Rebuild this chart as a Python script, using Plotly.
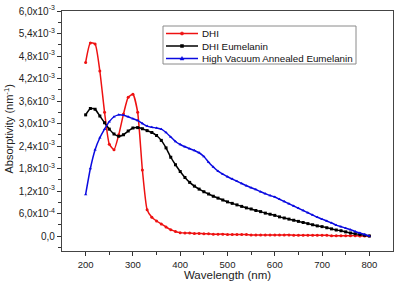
import plotly.graph_objects as go

wavelength = list(range(200, 810, 10))

dhi = [4.63, 5.15, 5.12, 4.40, 3.30, 2.45, 2.30, 2.70, 3.25, 3.70,
       3.78, 3.30, 1.76, 0.70, 0.50, 0.40, 0.32, 0.24, 0.17, 0.12,
       0.09, 0.08, 0.08, 0.07, 0.07, 0.06, 0.06, 0.05, 0.05, 0.05,
       0.04, 0.04, 0.04, 0.04, 0.04, 0.03, 0.03, 0.03, 0.03, 0.03,
       0.03, 0.03, 0.03, 0.03, 0.02, 0.02, 0.02, 0.02, 0.02, 0.02,
       0.02, 0.02, 0.01, 0.01, 0.01, 0.01, 0.01, 0.01, 0.00, 0.00,
       0.00]

dhi_eumelanin = [3.23, 3.40, 3.38, 3.20, 3.02, 2.85, 2.72, 2.66, 2.70, 2.80,
                 2.88, 2.89, 2.86, 2.81, 2.76, 2.68, 2.55, 2.35, 2.10, 1.90,
                 1.72, 1.56, 1.43, 1.33, 1.25, 1.18, 1.12, 1.06, 1.01, 0.96,
                 0.91, 0.87, 0.83, 0.79, 0.75, 0.72, 0.68, 0.65, 0.61, 0.58,
                 0.55, 0.51, 0.48, 0.45, 0.42, 0.39, 0.36, 0.33, 0.30, 0.27,
                 0.25, 0.22, 0.19, 0.16, 0.14, 0.11, 0.08, 0.06, 0.04, 0.02,
                 0.00]

annealed = [1.11, 1.80, 2.30, 2.62, 2.85, 3.05, 3.18, 3.23, 3.22, 3.18,
            3.13, 3.08, 3.00, 2.93, 2.90, 2.88, 2.85, 2.76, 2.64, 2.52,
            2.44, 2.38, 2.33, 2.28, 2.22, 2.12, 1.97, 1.84, 1.73, 1.65,
            1.58, 1.52, 1.46, 1.40, 1.34, 1.29, 1.24, 1.18, 1.13, 1.08,
            1.04, 0.98, 0.92, 0.86, 0.80, 0.74, 0.68, 0.62, 0.56, 0.50,
            0.45, 0.40, 0.35, 0.29, 0.25, 0.21, 0.17, 0.12, 0.08, 0.04,
            0.00]

series_names = ["DHI", "DHI Eumelanin", "High Vacuum Annealed Eumelanin"]

y_tickvals = [0, 0.6e-3, 1.2e-3, 1.8e-3, 2.4e-3, 3.0e-3, 3.6e-3, 4.2e-3, 4.8e-3, 5.4e-3, 6.0e-3]
y_ticktext = ["0,0", "6,0x10<sup>-4</sup>", "1,2x10<sup>-3</sup>", "1,8x10<sup>-3</sup>",
              "2,4x10<sup>-3</sup>", "3,0x10<sup>-3</sup>", "3,6x10<sup>-3</sup>",
              "4,2x10<sup>-3</sup>", "4,8x10<sup>-3</sup>", "5,4x10<sup>-3</sup>",
              "6,0x10<sup>-3</sup>"]
x_tickvals = [200, 300, 400, 500, 600, 700, 800]

scale = 1e-3
colors = ["#ee1111", "#000000", "#0a0ae0"]
symbols = ["circle", "square", "triangle-up"]

fig = go.Figure()
for name, vals, col, sym in zip(series_names, [dhi, dhi_eumelanin, annealed], colors, symbols):
    fig.add_trace(go.Scatter(
        x=wavelength, y=[v * scale for v in vals], name=name,
        mode="lines+markers", showlegend=False,
        line=dict(color=col, width=1.5, shape="spline", smoothing=0.5),
        marker=dict(color=col, size=3, symbol=sym),
    ))

# --- manual legend (compact rows, as in the reference) ---
W_PLOT, H_PLOT = 331.0, 240.0
def px_x(p):
    return (p - 62) / W_PLOT
def px_y(p):
    return (251 - p) / H_PLOT

shapes = [dict(type="rect", xref="paper", yref="paper",
               x0=px_x(163), x1=px_x(356), y0=px_y(64), y1=px_y(26),
               line=dict(color="#8a8a8a", width=1), fillcolor="white", layer="above")]
annotations = []
row_px = [33.5, 46.0, 58.5]
for name, col, sym, rp in zip(series_names, colors, symbols, row_px):
    yp = px_y(rp)
    shapes.append(dict(type="line", xref="paper", yref="paper",
                       x0=px_x(166), x1=px_x(198), y0=yp, y1=yp,
                       line=dict(color=col, width=1.5), layer="above"))
    common = dict(xref="paper", yref="paper", xsizemode="pixel", ysizemode="pixel",
                  xanchor=px_x(182), yanchor=yp, fillcolor=col,
                  line=dict(color=col, width=0.5), layer="above")
    if sym == "circle":
        shapes.append(dict(type="circle", x0=-1.6, x1=1.6, y0=-1.6, y1=1.6, **common))
    elif sym == "square":
        shapes.append(dict(type="rect", x0=-1.5, x1=1.5, y0=-1.5, y1=1.5, **common))
    else:
        shapes.append(dict(type="path", path="M-2,-1.4 L2,-1.4 L0,2 Z", **common))
    annotations.append(dict(text=name, xref="paper", yref="paper",
                            x=px_x(200), y=yp, xanchor="left", yanchor="middle",
                            showarrow=False, font=dict(size=9.8, color="#111")))

# y-axis title placed as in the reference
annotations.append(dict(text="Absorptivity (nm<sup>-1</sup>)", xref="paper", yref="paper",
                        x=px_x(8.5), y=px_y(129), xanchor="center", yanchor="middle",
                        textangle=-90, showarrow=False, font=dict(size=11, color="#222")))

font = "Liberation Sans, Arial, sans-serif"
fig.update_layout(
    width=400, height=284,
    margin=dict(l=62, r=7, t=11, b=33),
    paper_bgcolor="white", plot_bgcolor="white",
    font=dict(family=font, size=10, color="#222"),
    showlegend=False,
    shapes=shapes, annotations=annotations,
    xaxis=dict(range=[150, 850], tickvals=x_tickvals, automargin=False,
               ticks="outside", ticklen=4, tickwidth=1, tickcolor="#333",
               minor=dict(ticks="outside", ticklen=2.5, tickvals=[250, 350, 450, 550, 650, 750], tickcolor="#333"),
               showline=True, linecolor="#444", linewidth=1.2, mirror=True,
               showgrid=False, zeroline=False,
               tickfont=dict(size=9.5),
               title=dict(text="Wavelength (nm)", font=dict(size=11.5), standoff=0)),
    yaxis=dict(range=[-0.4e-3, 6.0e-3], tickvals=y_tickvals, ticktext=y_ticktext, automargin=False,
               ticks="outside", ticklen=4, tickwidth=1, tickcolor="#333",
               minor=dict(ticks="outside", ticklen=2.5,
                          tickvals=[-0.3e-3, 0.3e-3, 0.9e-3, 1.5e-3, 2.1e-3, 2.7e-3, 3.3e-3, 3.9e-3, 4.5e-3, 5.1e-3, 5.7e-3],
                          tickcolor="#333"),
               showline=True, linecolor="#444", linewidth=1.2, mirror=True,
               showgrid=False, zeroline=False,
               tickfont=dict(size=10)),
)

fig.write_html("out.html", config={"displayModeBar": False},
               post_script="document.body.style.margin='0px';")
